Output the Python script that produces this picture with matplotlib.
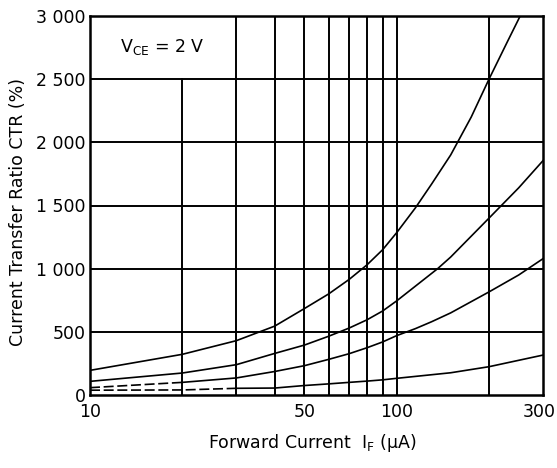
import matplotlib
matplotlib.use("Agg")
import matplotlib.pyplot as plt
from matplotlib.transforms import ScaledTranslation

plt.rcParams['font.family'] = ['DejaVu Sans']
plt.rcParams['mathtext.fontset'] = 'dejavusans'

# Data (forward current in uA, CTR in %)
x_a = [10, 20, 30, 40, 50, 60, 70, 80, 90, 100, 115, 130, 150, 175, 200, 230, 260]
ctr_a = [195, 322, 430, 545, 684, 800, 915, 1030, 1150, 1285, 1480, 1670, 1900, 2200, 2500, 2800, 3060]

x_b = [10, 20, 30, 40, 50, 60, 70, 80, 90, 100, 136, 150, 200, 250, 300]
ctr_b = [108, 174, 240, 329, 395, 465, 530, 595, 665, 745, 1000, 1092, 1400, 1640, 1855]

x_c = [10, 20, 30, 40, 50, 60, 70, 80, 90, 100, 115, 130, 150, 200, 250, 300]
ctr_c = [58, 100, 135, 186, 232, 282, 327, 374, 420, 470, 525, 580, 650, 816, 950, 1079]

x_d = [10, 20, 30, 40, 50, 60, 70, 80, 90, 100, 150, 200, 300]
ctr_d = [38, 40, 53, 55, 75, 88, 100, 110, 120, 132, 176, 224, 316]

x_ticks = [10, 50, 100, 300]
x_tick_labels = ['10', '50', '100', '300']
y_ticks = [0, 500, 1000, 1500, 2000, 2500, 3000]
y_tick_labels = ['0', '500', '1 000', '1 500', '2 000', '2 500', '3 000']
grid_x = [20, 30, 40, 50, 60, 70, 80, 90, 100, 200]
grid_y = [500, 1000, 1500, 2000, 2500]

fig = plt.figure(figsize=(5.57, 4.68), dpi=100)
ax = fig.add_axes([90/557, 1-395/468, 453/557, 379/468])
ax.set_xscale('log')
ax.set_xlim(10, 300)
ax.set_ylim(0, 3000)

# grid
for gx in grid_x:
    top = 2500 if gx == 20 else 3000
    ax.plot([gx, gx], [0, top], color='black', lw=1.4, zorder=1)
for gy in grid_y:
    ax.axhline(gy, color='black', lw=1.4, zorder=1)

dash = (0, (6, 2.2))
lw = 1.2
ax.plot(x_a, ctr_a, color='black', lw=lw, zorder=3)
ax.plot(x_b, ctr_b, color='black', lw=lw, zorder=3)
# C: dashed up to 20 uA
ax.plot(x_c[:2], ctr_c[:2], color='black', lw=lw, ls=dash, zorder=3)
ax.plot(x_c[1:], ctr_c[1:], color='black', lw=lw, zorder=3)
# D: dashed up to 30 uA
ax.plot(x_d[:3], ctr_d[:3], color='black', lw=lw, ls=dash, zorder=3)
ax.plot(x_d[2:], ctr_d[2:], color='black', lw=lw, zorder=3)

ax.set_xticks(x_ticks)
ax.set_xticklabels(x_tick_labels)
ax.xaxis.set_minor_locator(matplotlib.ticker.NullLocator())
ax.set_yticks(y_ticks)
ax.set_yticklabels(y_tick_labels)
ax.tick_params(length=0, labelsize=12.5)
ax.tick_params(axis='x', pad=6)
ax.tick_params(axis='y', pad=3)

# keep the last x tick label inside the figure
last = ax.get_xticklabels()[-1]
last.set_transform(last.get_transform() + ScaledTranslation(-4/100, 0, fig.dpi_scale_trans))

for s in ax.spines.values():
    s.set_linewidth(1.8)

ax.text(0.159, 0.918, r'V$_\mathrm{CE}$ = 2 V', transform=ax.transAxes,
        ha='center', va='center', fontsize=12.5)

fig.text(312/557, 1-443/468, r'Forward Current  I$_\mathrm{F}$ (μA)',
         ha='center', va='center', fontsize=12.5)
fig.text(18/557, 1-212/468, 'Current Transfer Ratio CTR (%)', rotation=90,
         ha='center', va='center', fontsize=12.5)

fig.savefig('out.png', dpi=100)
